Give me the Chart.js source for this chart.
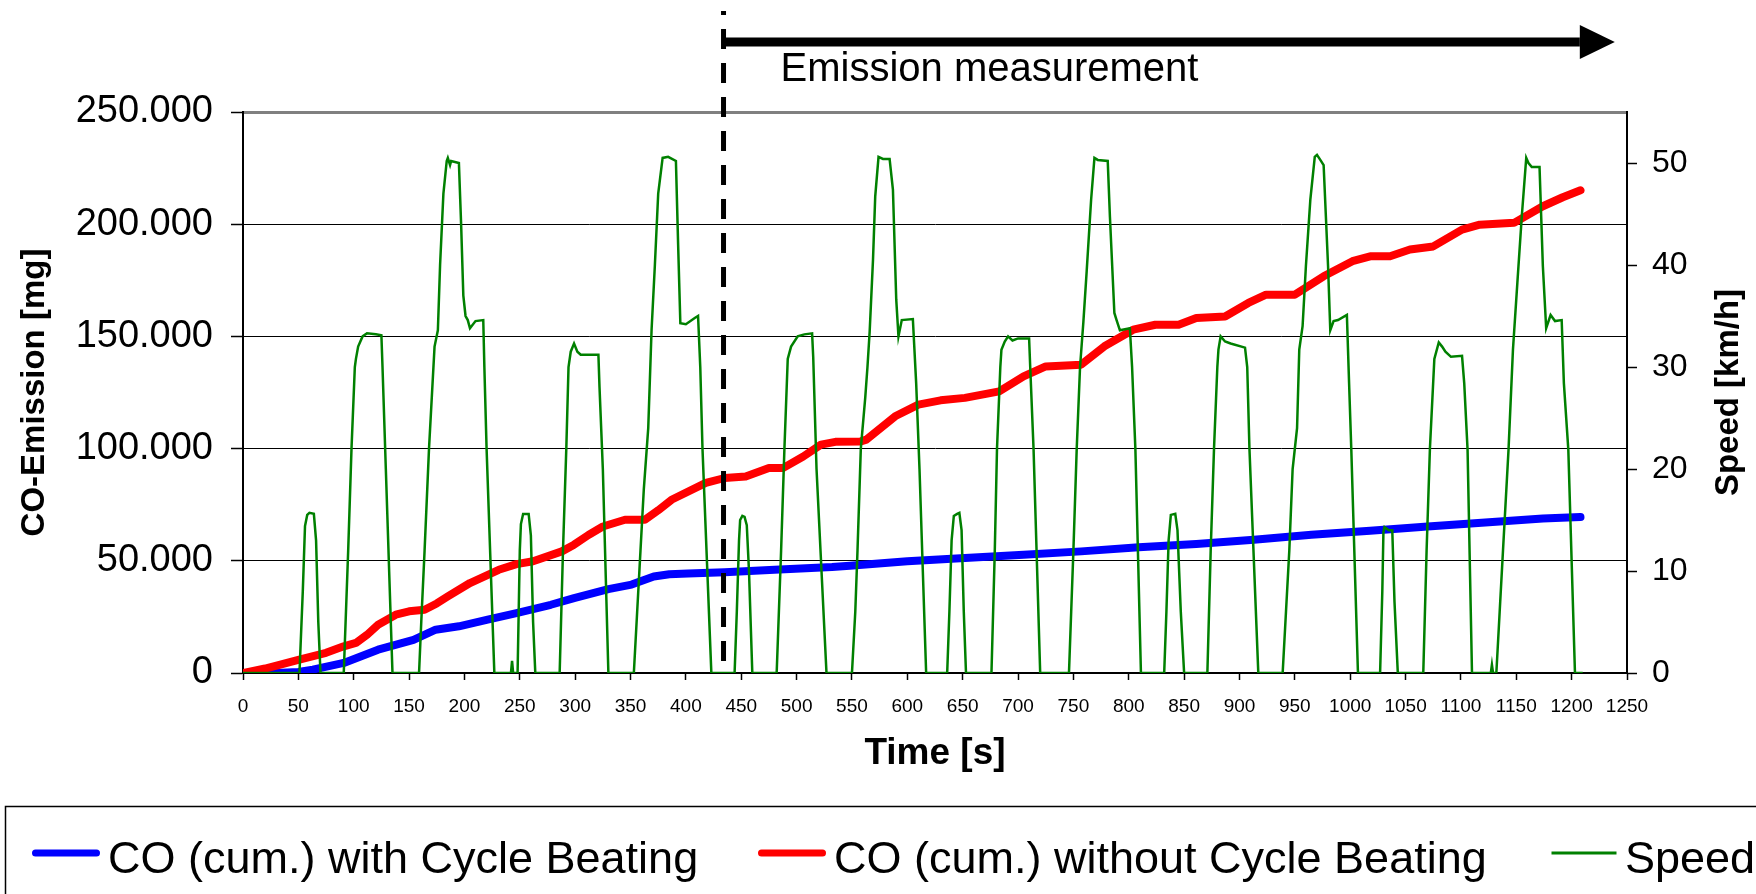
<!DOCTYPE html>
<html>
<head>
<meta charset="utf-8">
<script src="https://cdn.jsdelivr.net/npm/chart.js@4.4.1/dist/chart.umd.min.js"></script>
<style>
    html, body { margin: 0; padding: 0; background: #fff; overflow: hidden; }
    #wrap { width: 1756px; height: 894px; }
</style>
</head>
<body>
<div id="wrap"><canvas id="co-chart" width="1756" height="894"></canvas></div>
<script>
    // cumulative CO, with cycle beating (time [s] / mg)
    var coWithTime = [0, 30, 50, 63, 91, 122, 154, 174, 195, 221, 247, 278, 299, 330, 351, 371, 385, 402, 435, 480, 532, 548,
        600, 652, 705, 757, 809, 861, 913, 965, 1018, 1070, 1122, 1174, 1208];
    var coWith = [0, 0, 500, 1500, 4500, 10400, 14800, 19300, 20800, 23800, 26700, 30400, 33400, 37400, 39400, 43000, 44000, 44300, 44900, 46000, 47200, 47800,
        49800, 51300, 52700, 54200, 56000, 57500, 59400, 61600, 63400, 65300, 67100, 68900, 69500];

    // cumulative CO, without cycle beating
    var coWithoutTime = [0, 20, 50, 75, 91, 102, 112, 122, 138, 150, 164, 175, 185, 205, 231, 247, 262, 288, 299, 312, 325, 345, 363, 375, 387,
        418, 435, 454, 475, 488, 506, 522, 535, 558, 563, 589, 610, 630, 652, 683, 705, 725, 757, 778, 804, 824, 845, 861, 887,
        908, 924, 950, 976, 1002, 1018, 1036, 1054, 1075, 1101, 1117, 1148, 1174, 1192, 1208];
    var coWithout = [0, 2000, 5900, 9000, 11900, 13400, 17000, 21500, 26000, 27500, 28200, 31000, 34100, 40100, 46000, 48500, 49800, 54200, 57200, 61500, 65300, 68300, 68300, 72500, 77200,
        84700, 86900, 87600, 91400, 91400, 96500, 101800, 103000, 103200, 104000, 114400, 119600, 121500, 122600, 125500, 132200, 136600, 137400, 145600, 153000, 155200, 155200, 158200, 158900,
        164900, 168600, 168600, 176800, 183500, 185700, 185700, 188700, 190100, 197600, 199800, 200600, 208000, 212000, 215100];

    // vehicle speed [km/h]
    var speedTime = [0,
        51, 54, 56, 58, 60, 64, 66, 68, 70,
        91, 95, 98, 101, 102, 104, 108, 112, 120, 125, 126, 129, 135,
        159, 161, 164, 168, 173, 176, 178, 181, 184, 185, 187, 188, 195, 197, 199, 201, 203, 205, 210, 217, 218, 220, 227,
        242, 243, 244,
        248, 250, 251, 253, 258, 260, 262, 264,
        286, 289, 292, 294, 296, 299, 302, 305, 321, 322, 325, 330,
        353, 356, 359, 362, 366, 369, 372, 375, 379, 384, 391, 393, 395, 400, 408, 411, 413, 415, 423,
        444, 446, 448, 449, 451, 453, 455, 457, 460,
        482, 486, 489, 492, 495, 501, 507, 514, 515, 518, 527,
        550, 553, 555, 558, 562, 564, 566, 569, 571, 574, 578, 584, 587, 590, 592, 595, 605, 608, 611, 617,
        636, 638, 640, 642, 645, 647, 649, 651, 653,
        676, 679, 681, 684, 685, 688, 691, 695, 700, 710, 711, 714, 720,
        746, 748, 750, 753, 756, 759, 762, 766, 769, 772, 781, 783, 787, 789, 792, 801, 803, 806, 811,
        832, 834, 836, 838, 842, 844, 847, 850,
        871, 874, 877, 880, 881, 883, 887, 892, 905, 907, 909, 917,
        939, 942, 945, 948, 952, 954, 957, 960, 964, 968, 970, 973, 976, 980, 982, 985, 989, 997, 999, 1001, 1007,
        1027, 1029, 1030, 1031, 1035, 1038, 1040, 1043,
        1066, 1069, 1072, 1076, 1080, 1083, 1086, 1091, 1101, 1103, 1106, 1110,
        1127, 1128, 1129,
        1132, 1135, 1138, 1143, 1147, 1151, 1155, 1159, 1161, 1164, 1171, 1174, 1177, 1181, 1185, 1191, 1193, 1197, 1203, 1210];
    var speed = [0,
        0, 8, 14.4, 15.5, 15.7, 15.6, 13, 5, 0,
        0, 12, 22, 30, 30.8, 32, 33, 33.3, 33.2, 33.1, 30, 20, 0,
        0, 5, 12, 22, 32, 33.6, 40, 47, 50.2, 50.5, 49.8, 50.2, 50, 44, 37, 35, 34.6, 33.8, 34.5, 34.6, 30, 22, 0,
        0, 1.2, 0,
        0, 12, 14.6, 15.6, 15.6, 13.5, 5, 0,
        0, 12, 22, 30, 31.5, 32.3, 31.5, 31.2, 31.2, 28, 20, 0,
        0, 6, 12, 18, 24, 33.6, 40, 47, 50.5, 50.6, 50.2, 42, 34.3, 34.2, 34.8, 35, 30, 22, 0,
        0, 6, 13, 15, 15.4, 15.3, 14.5, 10, 0,
        0, 12, 22, 30.8, 32, 33, 33.2, 33.3, 31, 20, 0,
        0, 6, 12, 22, 27, 30, 33.5, 40.5, 46.7, 50.6, 50.4, 50.4, 47.4, 36.6, 33, 34.6, 34.7, 28.4, 20, 0,
        0, 6, 13, 15.4, 15.6, 15.7, 14, 6, 0,
        0, 12, 22, 30, 31.7, 32.5, 33, 32.6, 32.8, 32.8, 30, 22, 0,
        0, 6, 12, 22, 30, 34.4, 39.4, 46.4, 50.5, 50.3, 50.2, 44.7, 35.3, 34.6, 33.6, 33.8, 30, 21.9, 0,
        0, 6, 13, 15.5, 15.6, 14, 6, 0,
        0, 12, 22, 30, 31.7, 33, 32.5, 32.3, 31.9, 30, 22, 0,
        0, 6, 12, 20, 24, 31.7, 34, 39.9, 46.4, 50.6, 50.8, 50.3, 49.8, 39.9, 33.6, 34.5, 34.6, 35.1, 28.4, 21.9, 0,
        0, 8, 13.8, 14.3, 14, 14, 7, 0,
        0, 12, 22, 30.8, 32.4, 32, 31.5, 31, 31.1, 28.4, 21.9, 0,
        0, 0.8, 0,
        0, 6, 12, 21.9, 31.7, 38.3, 44.8, 50.5, 50, 49.6, 49.6, 39.9, 33.8, 35.1, 34.5, 34.6, 28.4, 21.9, 0, 0];

    // start of the emission measurement and end of the arrow [s]
    var measureStart = 434;
    var measureEnd = 1239;

    var FONT = '"Liberation Sans", Arial, sans-serif';

    function pairs(xs, ys) {
        return xs.map(function (t, i) { return {x: t, y: ys[i]}; });
    }

    Chart.defaults.font.family = FONT;
    Chart.defaults.color = '#000';

    // dashed marker, arrow and its caption
    var markerPlugin = {
        id: 'marker',
        afterDatasetsDraw: function (chart) {
            var ctx = chart.ctx;
            var xs = chart.scales.x.getPixelForValue(measureStart);
            var xe = chart.scales.x.getPixelForValue(measureEnd);
            ctx.save();
            ctx.strokeStyle = '#000';
            ctx.fillStyle = '#000';
            ctx.lineWidth = 5;
            ctx.setLineDash([20, 14]);
            ctx.lineDashOffset = 16;
            ctx.beginPath();
            ctx.moveTo(xs, 11);
            ctx.lineTo(xs, chart.chartArea.bottom - 3);
            ctx.stroke();
            ctx.setLineDash([]);

            ctx.lineWidth = 9;
            ctx.beginPath();
            ctx.moveTo(xs, 42);
            ctx.lineTo(xe - 35, 42);
            ctx.stroke();
            ctx.beginPath();
            ctx.moveTo(xe - 35, 25);
            ctx.lineTo(xe, 42);
            ctx.lineTo(xe - 35, 59);
            ctx.closePath();
            ctx.fill();

            ctx.font = '40px ' + FONT;
            ctx.textAlign = 'left';
            ctx.textBaseline = 'alphabetic';
            ctx.fillText('Emission measurement', xs + 57, 81);
            ctx.restore();
        }
    };

    // right axis title (reads bottom to top) and the boxed legend
    var framePlugin = {
        id: 'frame',
        afterDraw: function (chart) {
            var ctx = chart.ctx;
            var area = chart.chartArea;
            ctx.save();
            ctx.fillStyle = '#000';
            ctx.font = 'bold 33px ' + FONT;
            ctx.textAlign = 'center';
            ctx.textBaseline = 'middle';
            ctx.translate(1729, (area.top + area.bottom) / 2);
            ctx.rotate(-Math.PI / 2);
            ctx.fillText('Speed [km/h]', 0, 0);
            ctx.restore();

            ctx.save();
            ctx.strokeStyle = '#000';
            ctx.lineWidth = 1.5;
            ctx.strokeRect(5.5, 806.5, 1800, 200);
            var slots = [[32, 108], [758, 834], [1550, 1625]];
            chart.data.datasets.forEach(function (ds, i) {
                var s = slots[i];
                ctx.strokeStyle = ds.borderColor;
                ctx.lineWidth = ds.legendWidth;
                ctx.lineCap = ds.borderCapStyle || 'butt';
                ctx.beginPath();
                ctx.moveTo(s[0] + ds.legendWidth / 2, 853);
                ctx.lineTo(s[0] + 68 - ds.legendWidth / 2, 853);
                ctx.stroke();
                ctx.fillStyle = '#000';
                ctx.font = '45px ' + FONT;
                ctx.textAlign = 'left';
                ctx.textBaseline = 'alphabetic';
                ctx.fillText(ds.label, s[1], 873);
            });
            ctx.restore();
        }
    };

    var chart = new Chart(document.getElementById('co-chart'), {
        type: 'line',
        data: {
            datasets: [
                {
                    label: 'CO (cum.) with Cycle Beating',
                    data: pairs(coWithTime, coWith),
                    yAxisID: 'y',
                    borderColor: '#0000ff',
                    borderWidth: 8,
                    borderCapStyle: 'round',
                    borderJoinStyle: 'round',
                    legendWidth: 7,
                    pointRadius: 0,
                    tension: 0,
                    order: 2
                },
                {
                    label: 'CO (cum.) without Cycle Beating',
                    data: pairs(coWithoutTime, coWithout),
                    yAxisID: 'y',
                    borderColor: '#ff0000',
                    borderWidth: 8,
                    borderCapStyle: 'round',
                    borderJoinStyle: 'round',
                    legendWidth: 7,
                    pointRadius: 0,
                    tension: 0,
                    order: 1
                },
                {
                    label: 'Speed',
                    data: pairs(speedTime, speed),
                    yAxisID: 'y1',
                    borderColor: '#008000',
                    borderWidth: 2.5,
                    legendWidth: 3,
                    pointRadius: 0,
                    tension: 0,
                    order: 0
                }
            ]
        },
        options: {
            responsive: false,
            animation: false,
            devicePixelRatio: 1,
            layout: {padding: {top: 112, left: 0, right: 0, bottom: 0}},
            plugins: {
                legend: {display: false},
                tooltip: {enabled: false},
                title: {display: false}
            },
            scales: {
                x: {
                    type: 'linear',
                    min: 0,
                    max: 1250,
                    afterFit: function (s) { s.height = 221; },
                    ticks: {
                        stepSize: 50,
                        autoSkip: false,
                        maxRotation: 0,
                        padding: 15,
                        font: {size: 19},
                        callback: function (v) { return String(v); }
                    },
                    grid: {drawOnChartArea: false, tickLength: 7, tickColor: '#000', tickWidth: 1.5},
                    border: {color: '#000', width: 2},
                    title: {display: true, text: 'Time [s]', font: {size: 37, weight: 'bold'}, padding: {top: 0, bottom: 118}}
                },
                y: {
                    position: 'left',
                    min: 0,
                    max: 250000,
                    afterFit: function (s) { s.width = 243; },
                    ticks: {
                        stepSize: 50000,
                        padding: 18,
                        font: {size: 38},
                        callback: function (v) { return v === 0 ? '0' : (v / 1000) + '.000'; }
                    },
                    grid: {
                        color: function (c) { return c.tick && c.tick.value === 250000 ? '#808080' : '#000'; },
                        lineWidth: function (c) { return c.tick && c.tick.value === 250000 ? 3 : 1; },
                        tickLength: 12,
                        tickColor: '#000',
                        tickWidth: 1.5
                    },
                    border: {color: '#000', width: 2},
                    title: {display: true, text: 'CO-Emission [mg]', font: {size: 33, weight: 'bold'}, padding: {top: 15, bottom: 0}}
                },
                y1: {
                    position: 'right',
                    min: 0,
                    max: 55,
                    afterFit: function (s) { s.width = 129; },
                    afterBuildTicks: function (s) {
                        s.ticks = s.ticks.filter(function (t) { return t.value % 10 === 0; });
                    },
                    ticks: {stepSize: 10, padding: 15, font: {size: 32}},
                    grid: {drawOnChartArea: false, tickLength: 10, tickColor: '#000', tickWidth: 1.5},
                    border: {color: '#000', width: 2}
                }
            }
        },
        plugins: [markerPlugin, framePlugin]
    });
</script>
</body>
</html>
